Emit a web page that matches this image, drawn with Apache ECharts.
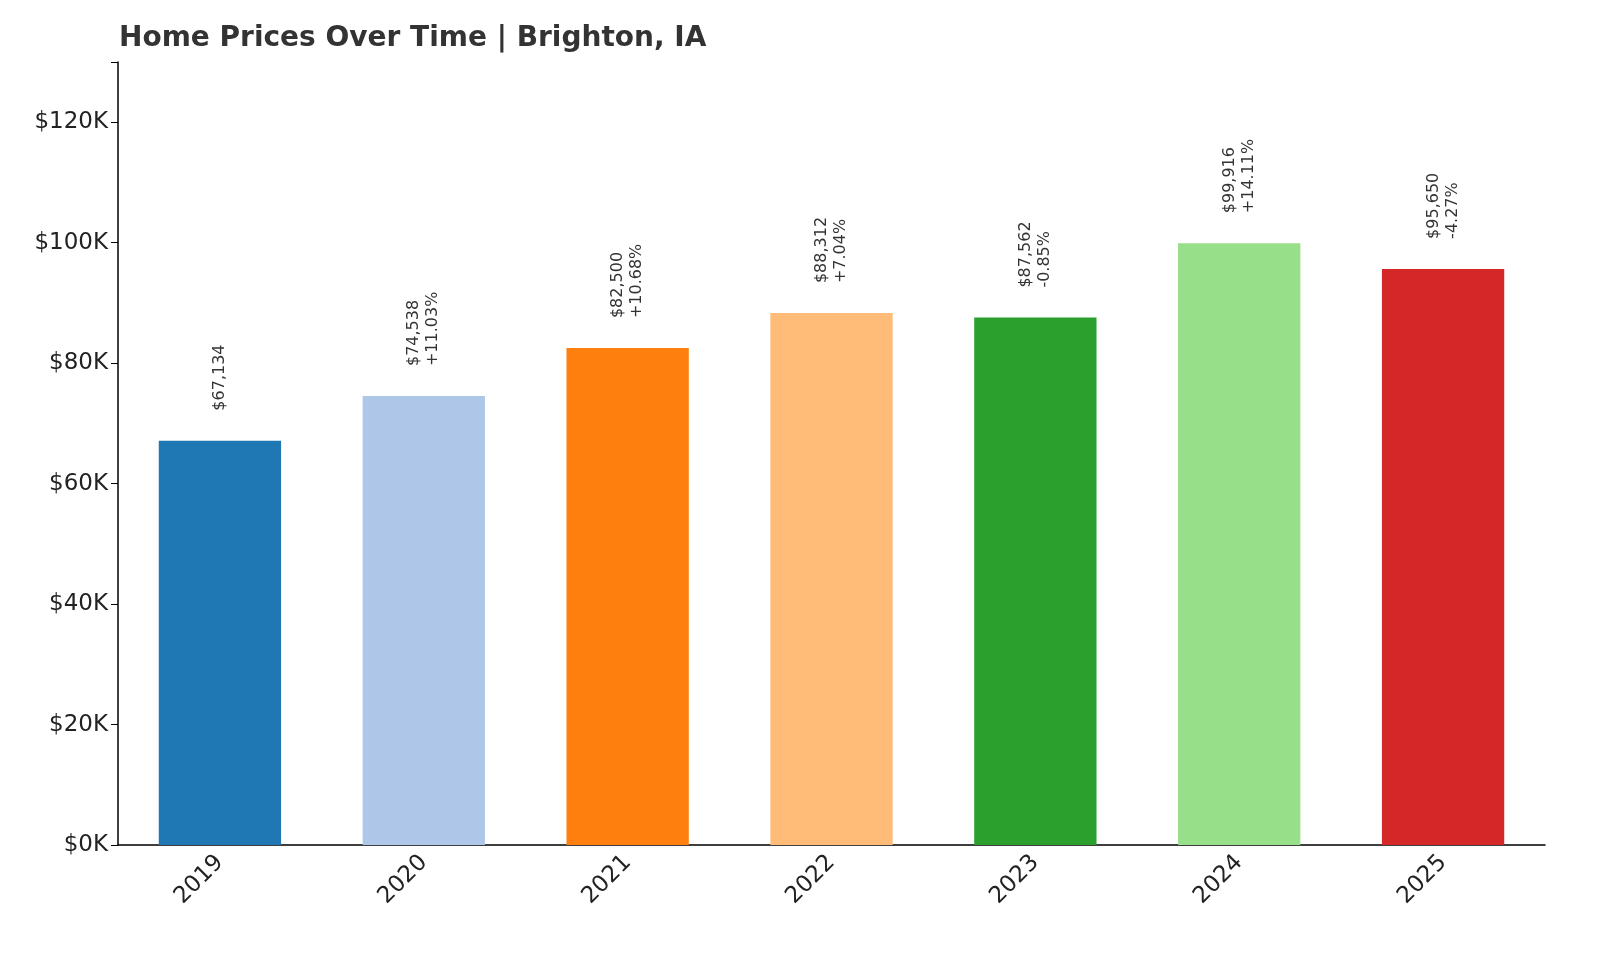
<!DOCTYPE html>
<html style="height: 100%;">
<head>
<meta charset="utf-8">
<title>Home Prices Over Time</title>
<script src="https://cdn.jsdelivr.net/npm/echarts@6/dist/echarts.min.js"></script>
</head>
<body style="height: 100%; margin: 0;">
<div id="chart" style="width: 1600px; height: 960px;"></div>
<script>
// data
var years = ['2019', '2020', '2021', '2022', '2023', '2024', '2025'];
var prices = [67134, 74538, 82500, 88312, 87562, 99916, 95650];
var changes = ['', '+11.03%', '+10.68%', '+7.04%', '-0.85%', '+14.11%', '-4.27%'];
var colors = ['#1f77b4', '#aec7e8', '#ff7f0e', '#ffbb78', '#2ca02c', '#98df8a', '#d62728'];

var font = 'DejaVu Sans';
var chart = echarts.init(document.getElementById('chart'));
chart.setOption({
    animation: false,
    title: {
        text: 'Home Prices Over Time | Brighton, IA',
        left: 114, top: 20,
        textStyle: { fontFamily: font, fontSize: 28, fontWeight: 'bold', color: '#333' }
    },
    grid: { left: 118, right: 55, top: 62, bottom: 115 },
    xAxis: {
        type: 'category',
        data: years,
        axisLine: { lineStyle: { color: '#000', width: 1.5 } },
        axisTick: { alignWithLabel: true, length: 7, lineStyle: { color: '#000' } },
        axisLabel: { rotate: 45, fontFamily: font, fontSize: 23, color: '#222', margin: 14 }
    },
    yAxis: {
        type: 'value',
        min: 0, max: 130000, interval: 20000,
        splitLine: { show: false },
        axisLine: { show: true, lineStyle: { color: '#000', width: 1.5 } },
        axisTick: { show: true, length: 7, lineStyle: { color: '#000' } },
        axisLabel: {
            fontFamily: font, fontSize: 23, color: '#222', margin: 10,
            formatter: function (v) { return v > 120000 ? '' : '$' + (v / 1000) + 'K'; }
        }
    },
    series: [{
        type: 'bar',
        barWidth: '60%',
        data: prices.map(function (p, i) {
            return { value: p, itemStyle: { color: colors[i] } };
        }),
        label: {
            show: true,
            position: 'top',
            rotate: 90,
            align: 'left',
            verticalAlign: 'middle',
            distance: 30,
            fontFamily: font, fontSize: 16, color: '#333', lineHeight: 19,
            formatter: function (params) {
                var s = '$' + prices[params.dataIndex].toLocaleString('en-US');
                var c = changes[params.dataIndex];
                return c ? s + '\n' + c : s;
            }
        }
    }]
});
</script>
</body>
</html>
